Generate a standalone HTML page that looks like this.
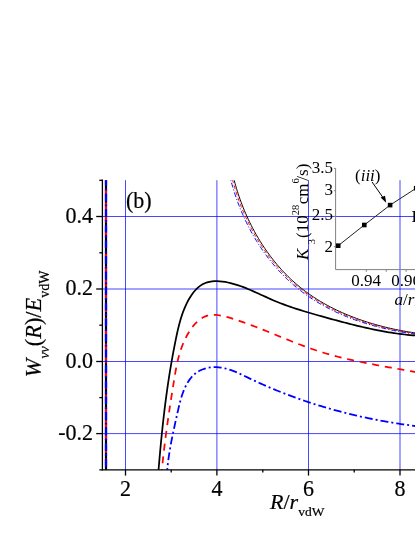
<!DOCTYPE html>
<html><head><meta charset="utf-8"><title>fig</title>
<style>html,body{margin:0;padding:0;background:#fff;}svg{display:block;}</style>
</head><body>
<svg width="415" height="537" viewBox="0 0 415 537">
<defs><filter id="idf" x="0" y="0" width="415" height="537" filterUnits="userSpaceOnUse"><feOffset dx="0" dy="0"/></filter><clipPath id="c"><rect x="102.4" y="180.2" width="320" height="289.6"/></clipPath></defs>
<rect width="415" height="537" fill="#fff"/>
<g stroke="#0000ff" stroke-opacity="0.72" stroke-width="1">
<line x1="125.5" y1="180.2" x2="125.5" y2="469.8"/>
<line x1="216.9" y1="180.2" x2="216.9" y2="469.8"/>
<line x1="308.5" y1="180.2" x2="308.5" y2="469.8"/>
<line x1="400.0" y1="180.2" x2="400.0" y2="469.8"/>
</g>
<g stroke="#0000ff" stroke-opacity="0.72" stroke-width="1">
<line x1="102.4" y1="216.5" x2="415" y2="216.5"/>
<line x1="102.4" y1="289.0" x2="415" y2="289.0"/>
<line x1="102.4" y1="361.5" x2="415" y2="361.5"/>
<line x1="102.4" y1="433.6" x2="415" y2="433.6"/>
</g>
<g clip-path="url(#c)" fill="none">
<path d="M232.25 172.36 L232.63 173.99 L233.02 175.61 L233.42 177.23 L233.82 178.85 L234.24 180.46 L234.68 182.07 L235.12 183.68 L235.57 185.29 L236.04 186.89 L236.52 188.49 L237.01 190.09 L237.51 191.69 L238.02 193.28 L238.54 194.86 L239.08 196.45 L239.62 198.03 L240.18 199.61 L240.75 201.18 L241.33 202.75 L241.93 204.31 L242.53 205.87 L243.15 207.43 L243.77 208.98 L244.41 210.52 L245.06 212.06 L245.72 213.60 L246.39 215.13 L247.07 216.65 L247.77 218.17 L248.47 219.69 L249.19 221.19 L249.92 222.70 L250.66 224.19 L251.41 225.68 L252.17 227.17 L252.94 228.64 L253.73 230.12 L254.52 231.58 L255.33 233.04 L256.15 234.49 L256.97 235.93 L257.81 237.37 L258.66 238.79 L259.53 240.22 L260.40 241.63 L261.28 243.03 L262.18 244.43 L263.08 245.82 L264.00 247.20 L264.93 248.58 L265.86 249.94 L266.81 251.30 L267.77 252.65 L268.74 253.99 L269.73 255.32 L270.72 256.64 L271.72 257.95 L272.74 259.25 L273.76 260.54 L274.80 261.83 L275.84 263.10 L276.90 264.36 L277.97 265.62 L279.05 266.86 L280.14 268.09 L281.24 269.32 L282.35 270.53 L283.47 271.73 L284.60 272.92 L285.74 274.10 L286.90 275.27 L288.06 276.43 L289.23 277.57 L290.42 278.71 L291.62 279.83 L292.82 280.94 L294.04 282.04 L295.27 283.13 L296.50 284.20 L297.75 285.27 L299.01 286.32 L300.28 287.35 L301.56 288.38 L302.85 289.39 L304.15 290.39 L305.46 291.38 L306.78 292.36 L308.11 293.32 L309.45 294.27 L310.80 295.21 L312.16 296.13 L313.53 297.04 L314.91 297.95 L316.30 298.83 L317.70 299.71 L319.10 300.58 L320.52 301.43 L321.94 302.27 L323.37 303.10 L324.81 303.92 L326.25 304.72 L327.71 305.51 L329.17 306.30 L330.64 307.07 L332.11 307.83 L333.60 308.57 L335.09 309.31 L336.59 310.04 L338.09 310.75 L339.60 311.45 L341.12 312.14 L342.64 312.82 L344.17 313.49 L345.70 314.15 L347.24 314.80 L348.79 315.43 L350.34 316.06 L351.90 316.67 L353.46 317.28 L355.02 317.87 L356.60 318.45 L358.17 319.03 L359.75 319.59 L361.34 320.14 L362.92 320.68 L364.52 321.21 L366.11 321.73 L367.71 322.24 L369.32 322.74 L370.92 323.23 L372.53 323.71 L374.14 324.18 L375.76 324.64 L377.38 325.09 L379.00 325.53 L380.62 325.97 L382.24 326.39 L383.87 326.80 L385.50 327.20 L387.13 327.59 L388.76 327.98 L390.39 328.35 L392.03 328.71 L393.66 329.07 L395.30 329.42 L396.93 329.75 L398.57 330.08 L400.21 330.40 L401.85 330.71 L403.48 331.01 L405.12 331.30 L406.76 331.59 L408.39 331.86 L410.03 332.13 L411.67 332.39 L413.30 332.64 L414.93 332.88 L416.57 333.10 L418.20 333.32" stroke="#000" stroke-width="1"/>
<path d="M230.79 172.70 L231.17 174.33 L231.56 175.96 L231.96 177.59 L232.37 179.22 L232.80 180.84 L233.23 182.47 L233.68 184.08 L234.14 185.70 L234.61 187.31 L235.10 188.92 L235.59 190.53 L236.10 192.14 L236.62 193.74 L237.15 195.33 L237.69 196.93 L238.24 198.52 L238.80 200.10 L239.38 201.68 L239.97 203.26 L240.57 204.83 L241.18 206.40 L241.80 207.97 L242.43 209.53 L243.08 211.08 L243.74 212.63 L244.40 214.17 L245.08 215.71 L245.77 217.25 L246.48 218.77 L247.19 220.30 L247.92 221.81 L248.65 223.32 L249.40 224.83 L250.16 226.32 L250.93 227.82 L251.71 229.30 L252.50 230.78 L253.31 232.25 L254.12 233.71 L254.95 235.17 L255.79 236.62 L256.63 238.07 L257.49 239.50 L258.37 240.93 L259.25 242.35 L260.14 243.76 L261.04 245.17 L261.96 246.56 L262.89 247.95 L263.82 249.33 L264.77 250.70 L265.73 252.07 L266.70 253.42 L267.68 254.76 L268.68 256.10 L269.68 257.43 L270.70 258.74 L271.72 260.05 L272.76 261.35 L273.80 262.64 L274.86 263.92 L275.93 265.19 L277.01 266.45 L278.10 267.69 L279.20 268.93 L280.31 270.16 L281.44 271.38 L282.57 272.58 L283.71 273.78 L284.87 274.96 L286.04 276.13 L287.21 277.29 L288.40 278.44 L289.60 279.58 L290.81 280.71 L292.02 281.82 L293.25 282.92 L294.49 284.01 L295.74 285.09 L297.01 286.16 L298.28 287.21 L299.56 288.25 L300.85 289.28 L302.16 290.29 L303.47 291.29 L304.79 292.28 L306.13 293.26 L307.47 294.22 L308.83 295.17 L310.19 296.11 L311.56 297.04 L312.94 297.95 L314.33 298.85 L315.73 299.74 L317.14 300.61 L318.56 301.48 L319.98 302.33 L321.42 303.17 L322.86 303.99 L324.31 304.81 L325.77 305.61 L327.23 306.40 L328.71 307.18 L330.18 307.95 L331.67 308.70 L333.17 309.45 L334.67 310.18 L336.17 310.90 L337.69 311.61 L339.21 312.31 L340.74 313.00 L342.27 313.67 L343.81 314.34 L345.35 314.99 L346.90 315.63 L348.46 316.26 L350.02 316.89 L351.58 317.49 L353.15 318.09 L354.73 318.68 L356.31 319.26 L357.89 319.82 L359.48 320.38 L361.07 320.93 L362.67 321.46 L364.27 321.99 L365.87 322.50 L367.48 323.00 L369.09 323.50 L370.70 323.98 L372.32 324.45 L373.94 324.92 L375.56 325.37 L377.18 325.81 L378.81 326.25 L380.44 326.67 L382.07 327.09 L383.70 327.49 L385.34 327.89 L386.97 328.27 L388.61 328.65 L390.25 329.01 L391.89 329.37 L393.53 329.72 L395.17 330.06 L396.81 330.39 L398.45 330.71 L400.09 331.02 L401.74 331.32 L403.38 331.61 L405.02 331.90 L406.66 332.17 L408.30 332.44 L409.94 332.70 L411.58 332.95 L413.22 333.19 L414.86 333.42 L416.49 333.65 L418.13 333.86" stroke="#f00" stroke-width="1" stroke-dasharray="4 2.5"/>
<path d="M229.11 173.09 L229.49 174.73 L229.88 176.37 L230.29 178.01 L230.71 179.65 L231.14 181.28 L231.58 182.92 L232.03 184.55 L232.50 186.18 L232.97 187.80 L233.46 189.42 L233.97 191.04 L234.48 192.65 L235.00 194.27 L235.54 195.87 L236.09 197.48 L236.65 199.08 L237.22 200.67 L237.80 202.26 L238.40 203.85 L239.01 205.44 L239.62 207.01 L240.25 208.59 L240.90 210.16 L241.55 211.72 L242.21 213.28 L242.89 214.83 L243.58 216.38 L244.28 217.93 L244.99 219.46 L245.71 220.99 L246.45 222.52 L247.19 224.04 L247.95 225.55 L248.72 227.06 L249.50 228.56 L250.29 230.05 L251.09 231.54 L251.91 233.02 L252.73 234.50 L253.57 235.96 L254.42 237.42 L255.28 238.87 L256.15 240.32 L257.03 241.75 L257.92 243.18 L258.83 244.60 L259.74 246.01 L260.67 247.42 L261.61 248.81 L262.56 250.20 L263.52 251.58 L264.49 252.95 L265.47 254.31 L266.47 255.66 L267.47 257.00 L268.49 258.34 L269.52 259.66 L270.55 260.98 L271.60 262.28 L272.66 263.57 L273.73 264.86 L274.82 266.13 L275.91 267.40 L277.01 268.65 L278.13 269.90 L279.25 271.13 L280.39 272.35 L281.54 273.56 L282.70 274.76 L283.87 275.95 L285.05 277.13 L286.24 278.29 L287.44 279.44 L288.65 280.59 L289.87 281.72 L291.11 282.83 L292.35 283.94 L293.61 285.03 L294.87 286.11 L296.15 287.18 L297.44 288.24 L298.73 289.28 L300.04 290.31 L301.36 291.33 L302.69 292.33 L304.03 293.32 L305.38 294.30 L306.73 295.26 L308.10 296.21 L309.48 297.15 L310.87 298.08 L312.26 298.99 L313.67 299.89 L315.08 300.77 L316.50 301.65 L317.93 302.51 L319.37 303.36 L320.82 304.20 L322.28 305.02 L323.74 305.83 L325.21 306.63 L326.69 307.42 L328.17 308.20 L329.66 308.96 L331.16 309.71 L332.67 310.45 L334.18 311.18 L335.70 311.90 L337.23 312.60 L338.76 313.30 L340.30 313.98 L341.84 314.65 L343.39 315.31 L344.95 315.96 L346.51 316.59 L348.07 317.22 L349.64 317.83 L351.22 318.44 L352.80 319.03 L354.38 319.61 L355.97 320.18 L357.56 320.74 L359.16 321.29 L360.76 321.83 L362.37 322.36 L363.98 322.87 L365.59 323.38 L367.21 323.88 L368.82 324.36 L370.45 324.84 L372.07 325.31 L373.70 325.76 L375.33 326.21 L376.96 326.64 L378.59 327.07 L380.23 327.48 L381.87 327.89 L383.51 328.29 L385.15 328.67 L386.79 329.05 L388.43 329.42 L390.08 329.77 L391.72 330.12 L393.37 330.46 L395.02 330.79 L396.67 331.11 L398.31 331.42 L399.96 331.73 L401.61 332.02 L403.26 332.30 L404.90 332.58 L406.55 332.85 L408.20 333.10 L409.84 333.35 L411.49 333.59 L413.13 333.83 L414.77 334.05 L416.41 334.27 L418.04 334.49" stroke="#00f" stroke-width="1" stroke-dasharray="5 2 1 2"/>
<path d="M158.03 476.13 L158.25 473.41 L158.47 470.70 L158.70 468.00 L158.93 465.30 L159.16 462.61 L159.39 459.92 L159.62 457.23 L159.86 454.55 L160.11 451.87 L160.35 449.20 L160.60 446.53 L160.85 443.87 L161.11 441.21 L161.37 438.55 L161.64 435.89 L161.91 433.24 L162.18 430.59 L162.46 427.94 L162.74 425.30 L163.03 422.65 L163.33 420.01 L163.63 417.37 L163.93 414.74 L164.25 412.10 L164.56 409.46 L164.89 406.83 L165.22 404.20 L165.55 401.57 L165.90 398.93 L166.25 396.30 L166.61 393.67 L166.97 391.04 L167.34 388.41 L167.72 385.78 L168.11 383.15 L168.51 380.51 L168.91 377.88 L169.32 375.24 L169.74 372.61 L170.17 369.97 L170.61 367.33 L171.06 364.69 L171.51 362.05 L171.98 359.40 L172.45 356.75 L172.94 354.10 L173.43 351.45 L173.94 348.79 L174.45 346.13 L174.98 343.47 L175.51 340.81 L176.06 338.14 L176.62 335.46 L177.20 332.79 L177.80 330.13 L178.43 327.47 L179.10 324.82 L179.80 322.18 L180.55 319.56 L181.35 316.96 L182.20 314.38 L183.11 311.82 L184.09 309.30 L185.14 306.80 L186.26 304.34 L187.46 301.92 L188.75 299.53 L190.13 297.20 L191.60 294.95 L193.17 292.79 L194.84 290.76 L196.61 288.87 L198.49 287.16 L200.47 285.63 L202.57 284.33 L204.78 283.26 L207.10 282.44 L209.51 281.83 L212.00 281.43 L214.56 281.22 L217.17 281.19 L219.82 281.32 L222.49 281.59 L225.18 281.98 L227.86 282.49 L230.53 283.10 L233.18 283.79 L235.79 284.55 L238.38 285.37 L240.94 286.25 L243.48 287.19 L245.99 288.17 L248.49 289.19 L250.98 290.24 L253.45 291.33 L255.91 292.43 L258.36 293.54 L260.81 294.67 L263.25 295.79 L265.70 296.91 L268.14 298.02 L270.60 299.11 L273.05 300.18 L275.52 301.22 L278.00 302.23 L280.48 303.21 L282.98 304.16 L285.48 305.09 L287.99 305.99 L290.51 306.87 L293.04 307.73 L295.57 308.57 L298.11 309.39 L300.65 310.20 L303.20 310.98 L305.75 311.76 L308.31 312.52 L310.88 313.27 L313.44 314.01 L316.01 314.74 L318.58 315.47 L321.16 316.19 L323.73 316.91 L326.31 317.62 L328.89 318.33 L331.47 319.04 L334.05 319.74 L336.63 320.44 L339.21 321.14 L341.80 321.82 L344.39 322.51 L346.98 323.18 L349.57 323.84 L352.16 324.50 L354.76 325.15 L357.36 325.78 L359.96 326.40 L362.56 327.02 L365.17 327.61 L367.78 328.20 L370.39 328.77 L373.01 329.32 L375.63 329.86 L378.25 330.38 L380.88 330.89 L383.50 331.37 L386.14 331.84 L388.77 332.28 L391.41 332.71 L394.06 333.11 L396.71 333.50 L399.36 333.85 L402.01 334.19 L404.67 334.50 L407.34 334.79 L410.01 335.05 L412.68 335.28 L415.36 335.48 L418.05 335.66" stroke="#000" stroke-width="1.75"/>
<path d="M161.37 476.02 L161.58 473.55 L161.80 471.09 L162.03 468.63 L162.27 466.17 L162.51 463.72 L162.77 461.26 L163.03 458.80 L163.29 456.35 L163.56 453.89 L163.84 451.44 L164.13 448.99 L164.42 446.53 L164.72 444.08 L165.02 441.63 L165.33 439.18 L165.65 436.74 L165.97 434.29 L166.30 431.84 L166.63 429.40 L166.96 426.95 L167.30 424.51 L167.65 422.06 L167.99 419.62 L168.35 417.18 L168.70 414.74 L169.06 412.30 L169.43 409.86 L169.79 407.43 L170.16 404.99 L170.53 402.55 L170.91 400.12 L171.29 397.69 L171.67 395.25 L172.05 392.82 L172.43 390.39 L172.82 387.96 L173.21 385.53 L173.59 383.10 L173.98 380.68 L174.38 378.25 L174.78 375.83 L175.19 373.41 L175.61 370.99 L176.06 368.57 L176.53 366.16 L177.04 363.76 L177.57 361.36 L178.15 358.97 L178.76 356.58 L179.43 354.20 L180.14 351.83 L180.91 349.47 L181.74 347.12 L182.64 344.78 L183.60 342.45 L184.64 340.13 L185.75 337.82 L186.95 335.53 L188.23 333.26 L189.59 331.04 L191.04 328.89 L192.56 326.82 L194.16 324.86 L195.83 323.02 L197.59 321.32 L199.42 319.79 L201.32 318.43 L203.29 317.28 L205.34 316.35 L207.46 315.65 L209.64 315.19 L211.88 314.93 L214.17 314.87 L216.50 314.98 L218.87 315.25 L221.27 315.64 L223.69 316.15 L226.12 316.75 L228.56 317.43 L231.00 318.16 L233.43 318.92 L235.85 319.70 L238.26 320.50 L240.65 321.32 L243.03 322.15 L245.40 322.99 L247.76 323.85 L250.10 324.71 L252.44 325.59 L254.77 326.48 L257.10 327.38 L259.41 328.28 L261.72 329.20 L264.02 330.11 L266.31 331.04 L268.60 331.96 L270.89 332.89 L273.17 333.82 L275.45 334.76 L277.73 335.69 L280.00 336.62 L282.27 337.55 L284.54 338.47 L286.82 339.39 L289.09 340.31 L291.36 341.22 L293.64 342.12 L295.91 343.02 L298.19 343.91 L300.48 344.78 L302.77 345.65 L305.06 346.50 L307.36 347.34 L309.66 348.16 L311.97 348.97 L314.29 349.77 L316.61 350.54 L318.95 351.30 L321.29 352.04 L323.64 352.76 L326.00 353.47 L328.37 354.15 L330.75 354.82 L333.13 355.47 L335.52 356.11 L337.92 356.73 L340.32 357.34 L342.73 357.93 L345.14 358.51 L347.55 359.08 L349.98 359.63 L352.40 360.17 L354.83 360.70 L357.26 361.22 L359.70 361.74 L362.13 362.24 L364.57 362.73 L367.01 363.21 L369.45 363.69 L371.89 364.16 L374.33 364.62 L376.77 365.08 L379.21 365.53 L381.65 365.97 L384.09 366.41 L386.52 366.85 L388.96 367.29 L391.39 367.72 L393.81 368.15 L396.24 368.58 L398.66 369.00 L401.07 369.43 L403.48 369.86 L405.89 370.29 L408.29 370.72 L410.68 371.15 L413.07 371.59 L415.45 372.02 L417.82 372.46" stroke="#f00" stroke-width="1.75" stroke-dasharray="7 5.8"/>
<path d="M166.68 476.16 L166.85 473.88 L167.04 471.63 L167.25 469.41 L167.48 467.20 L167.72 465.02 L167.97 462.85 L168.24 460.71 L168.53 458.58 L168.83 456.47 L169.14 454.37 L169.47 452.28 L169.81 450.20 L170.16 448.13 L170.52 446.07 L170.89 444.01 L171.27 441.96 L171.67 439.91 L172.07 437.86 L172.48 435.81 L172.90 433.76 L173.33 431.70 L173.77 429.64 L174.22 427.57 L174.67 425.49 L175.13 423.40 L175.59 421.30 L176.06 419.19 L176.53 417.06 L177.01 414.92 L177.50 412.76 L177.98 410.58 L178.48 408.39 L179.00 406.19 L179.54 404.00 L180.10 401.80 L180.69 399.62 L181.33 397.46 L182.00 395.32 L182.73 393.20 L183.50 391.12 L184.34 389.08 L185.24 387.08 L186.21 385.13 L187.25 383.24 L188.37 381.41 L189.58 379.65 L190.88 377.97 L192.26 376.39 L193.73 374.91 L195.28 373.56 L196.93 372.34 L198.67 371.25 L200.48 370.30 L202.35 369.48 L204.29 368.79 L206.28 368.22 L208.31 367.78 L210.37 367.45 L212.45 367.25 L214.55 367.16 L216.65 367.19 L218.75 367.32 L220.84 367.57 L222.91 367.91 L224.96 368.35 L227.00 368.88 L229.03 369.49 L231.05 370.17 L233.06 370.91 L235.06 371.70 L237.05 372.54 L239.04 373.42 L241.02 374.33 L243.00 375.27 L244.97 376.22 L246.95 377.17 L248.92 378.13 L250.90 379.07 L252.88 380.01 L254.86 380.93 L256.84 381.85 L258.83 382.75 L260.81 383.65 L262.80 384.54 L264.79 385.41 L266.78 386.28 L268.78 387.14 L270.77 387.99 L272.77 388.83 L274.77 389.66 L276.77 390.48 L278.78 391.29 L280.78 392.09 L282.79 392.88 L284.80 393.66 L286.81 394.44 L288.82 395.20 L290.84 395.96 L292.86 396.70 L294.88 397.44 L296.90 398.17 L298.92 398.89 L300.95 399.60 L302.98 400.30 L305.01 400.99 L307.04 401.68 L309.07 402.35 L311.11 403.02 L313.15 403.68 L315.19 404.33 L317.23 404.97 L319.28 405.60 L321.33 406.22 L323.38 406.84 L325.43 407.45 L327.48 408.04 L329.54 408.63 L331.60 409.22 L333.66 409.79 L335.72 410.35 L337.79 410.91 L339.86 411.46 L341.93 412.00 L344.00 412.53 L346.08 413.06 L348.15 413.58 L350.23 414.08 L352.32 414.59 L354.40 415.08 L356.49 415.56 L358.58 416.04 L360.67 416.51 L362.77 416.97 L364.86 417.43 L366.96 417.87 L369.06 418.31 L371.17 418.75 L373.28 419.17 L375.39 419.59 L377.50 420.00 L379.61 420.40 L381.73 420.79 L383.85 421.18 L385.97 421.56 L388.10 421.93 L390.23 422.30 L392.36 422.66 L394.49 423.01 L396.63 423.35 L398.76 423.69 L400.91 424.02 L403.05 424.34 L405.20 424.66 L407.34 424.97 L409.50 425.27 L411.65 425.57 L413.81 425.86 L415.97 426.14 L418.13 426.42" stroke="#00f" stroke-width="1.8" stroke-dasharray="8 3 2 3"/>
<line x1="106.0" y1="180" x2="106.0" y2="470" stroke="#000" stroke-width="2.2"/>
<line x1="106.0" y1="180" x2="106.0" y2="470" stroke="#f00" stroke-width="2.1" stroke-dasharray="7 5.8" stroke-dashoffset="3"/>
<line x1="106.0" y1="180" x2="106.0" y2="470" stroke="#00f" stroke-width="2.2" stroke-dasharray="7.8 3 1.8 3" stroke-dashoffset="2"/>
</g>
<g stroke="#000" stroke-width="1.3" fill="none">
<line x1="102.4" y1="179.6" x2="102.4" y2="470.4"/>
<line x1="99.3" y1="469.8" x2="415" y2="469.8"/>
<line x1="96.2" y1="216.5" x2="102.4" y2="216.5"/>
<line x1="96.2" y1="289.0" x2="102.4" y2="289.0"/>
<line x1="96.2" y1="361.5" x2="102.4" y2="361.5"/>
<line x1="96.2" y1="433.6" x2="102.4" y2="433.6"/>
<line x1="99.3" y1="180.3" x2="102.4" y2="180.3"/>
<line x1="99.3" y1="252.8" x2="102.4" y2="252.8"/>
<line x1="99.3" y1="325.2" x2="102.4" y2="325.2"/>
<line x1="99.3" y1="397.6" x2="102.4" y2="397.6"/>
<line x1="125.5" y1="469.8" x2="125.5" y2="475.6"/>
<line x1="216.9" y1="469.8" x2="216.9" y2="475.6"/>
<line x1="308.5" y1="469.8" x2="308.5" y2="475.6"/>
<line x1="400.0" y1="469.8" x2="400.0" y2="475.6"/>
<line x1="171.2" y1="469.8" x2="171.2" y2="472.6"/>
<line x1="262.8" y1="469.8" x2="262.8" y2="472.6"/>
<line x1="354.2" y1="469.8" x2="354.2" y2="472.6"/>
</g>
<g font-family="Liberation Serif, serif" font-size="22" fill="#000" stroke="#000" stroke-width="0.2" filter="url(#idf)">
<text transform="translate(93,222.9) scale(1,1.035)" text-anchor="end">0.4</text>
<text transform="translate(93,295.4) scale(1,1.035)" text-anchor="end">0.2</text>
<text transform="translate(93,367.9) scale(1,1.035)" text-anchor="end">0.0</text>
<text transform="translate(93,440.0) scale(1,1.035)" text-anchor="end">-0.2</text>
<text transform="translate(125.5,496.2) scale(1,1.035)" text-anchor="middle">2</text>
<text transform="translate(216.9,496.2) scale(1,1.035)" text-anchor="middle">4</text>
<text transform="translate(308.5,496.2) scale(1,1.035)" text-anchor="middle">6</text>
<text transform="translate(400.0,496.2) scale(1,1.035)" text-anchor="middle">8</text>
<text transform="translate(126,208) scale(1,1.05)">(b)</text>
<text x="270" y="508.6"><tspan font-style="italic">R</tspan>/<tspan font-style="italic">r</tspan><tspan font-size="13.5" dy="7.2">vdW</tspan></text>
<text font-size="22.3" transform="translate(40.7,377.2) rotate(-90)"><tspan font-style="italic">W</tspan><tspan font-size="14" dy="8.3" font-style="italic">νν</tspan><tspan dy="-8.3">(</tspan><tspan font-style="italic">R</tspan>)/<tspan font-style="italic">E</tspan><tspan font-size="14" dy="8.3">vdW</tspan></text>
</g>
<g stroke="#808080" stroke-width="1" fill="none">
<polyline points="335.6,168.3 335.6,269.6 415,269.6"/>
<line x1="333.9" y1="168.4" x2="335.6" y2="168.4"/>
<line x1="333.9" y1="190.7" x2="335.6" y2="190.7"/>
<line x1="333.9" y1="216.3" x2="335.6" y2="216.3"/>
<line x1="333.9" y1="246.7" x2="335.6" y2="246.7"/>
<line x1="366.3" y1="269.6" x2="366.3" y2="271.8"/>
<line x1="386.2" y1="269.6" x2="386.2" y2="271.8"/>
<line x1="406.1" y1="269.6" x2="406.1" y2="271.8"/>
</g>
<polyline points="338.2,245.7 364.3,225 390.1,205.1 416.2,188.2" stroke="#222" stroke-width="1" fill="none"/>
<rect x="335.9" y="243.4" width="4.6" height="4.6" fill="#000"/>
<rect x="362.0" y="222.7" width="4.6" height="4.6" fill="#000"/>
<rect x="387.8" y="202.8" width="4.6" height="4.6" fill="#000"/>
<rect x="413.9" y="185.9" width="4.6" height="4.6" fill="#000"/>
<line x1="372" y1="181.9" x2="384" y2="199" stroke="#000" stroke-width="1"/>
<polygon points="386.2,202.8 380.6,197.4 385.0,195.7" fill="#000"/>
<g font-family="Liberation Serif, serif" font-size="17" fill="#000" filter="url(#idf)">
<text x="333" y="173.2" text-anchor="end">3.5</text>
<text x="333" y="195.0" text-anchor="end">3</text>
<text x="333" y="220.4" text-anchor="end">2.5</text>
<text x="333" y="251.8" text-anchor="end">2</text>
<text x="366.2" y="285.8" text-anchor="middle">0.94</text>
<text x="406" y="285.8" text-anchor="middle">0.96</text>
<text x="355" y="181.1">(<tspan font-style="italic">iii</tspan>)</text>
<text x="411.5" y="221.5">E</text>
<text x="394.6" y="305.3"><tspan font-style="italic">a</tspan>/<tspan font-style="italic">r</tspan><tspan font-size="10.5" dy="4.5">vdW</tspan></text>
<text transform="translate(307.8,260) rotate(-90)"><tspan font-style="italic">K</tspan><tspan font-size="10.5" dy="7.3" dx="4.5">3</tspan><tspan dy="-7.3" dx="1">(10</tspan><tspan font-size="10.5" dy="-8.4">28</tspan><tspan dy="8.4" dx="0.5">cm</tspan><tspan font-size="10.5" dy="-8.4">6</tspan><tspan dy="8.4" dx="-2.5">/s)</tspan></text>
</g>
</svg>
</body></html>
